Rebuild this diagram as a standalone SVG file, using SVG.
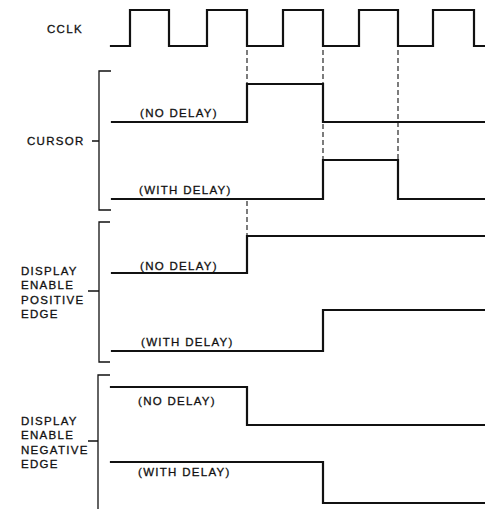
<svg xmlns="http://www.w3.org/2000/svg" width="485" height="509" viewBox="0 0 485 509">
<style>
.sig{fill:none;stroke:#111;stroke-width:2.2;stroke-linejoin:miter;stroke-linecap:square}
.br{fill:none;stroke:#111;stroke-width:1.3}
.dash{fill:none;stroke:#111;stroke-width:1.1;stroke-dasharray:5 3}
text{font-family:"Liberation Sans",Arial,sans-serif;font-size:11.5px;letter-spacing:1.3px;fill:#111;stroke:#111;stroke-width:0.3}
</style>
<rect width="485" height="509" fill="#fff"/>
<g id="connectors">
<path class="dash" d="M247,50 V84 M323,50 V84 M398,50 V160 M323,124 V160 M247,201 V236"/>
</g>
<g id="cclk">
<text x="47" y="33">CCLK</text>
<path class="sig" d="M111,46 H130 V10 H169 V46 H207 V10 H247 V46 H283 V10 H323 V46 H359 V10 H398 V46 H433 V10 H474 V46 H485"/>
</g>
<g id="cursor">
<text x="27" y="145">CURSOR</text>
<path class="br" d="M111,71 H99 V210 H111 M92,141 H99"/>
<text x="140" y="117">(NO DELAY)</text>
<path class="sig" d="M112,122 H247 V84 H323 V122 H485"/>
<text x="139" y="194">(WITH DELAY)</text>
<path class="sig" d="M112,199 H323 V160 H398 V199 H485"/>
</g>
<g id="display-enable-positive">
<text x="21" y="275">DISPLAY</text>
<text x="21" y="289">ENABLE</text>
<text x="21" y="304">POSITIVE</text>
<text x="21" y="318">EDGE</text>
<path class="br" d="M110,222 H99 V362 H110 M88,291 H99"/>
<text x="140" y="270">(NO DELAY)</text>
<path class="sig" d="M112,273 H247 V236 H485"/>
<text x="141" y="346">(WITH DELAY)</text>
<path class="sig" d="M112,351 H323 V310 H485"/>
</g>
<g id="display-enable-negative">
<text x="21" y="425">DISPLAY</text>
<text x="21" y="439">ENABLE</text>
<text x="21" y="454">NEGATIVE</text>
<text x="21" y="468">EDGE</text>
<path class="br" d="M110,375 H98 V509 M88,441 H98"/>
<text x="138" y="405">(NO DELAY)</text>
<path class="sig" d="M111,387 H247 V425 H485"/>
<text x="138" y="476">(WITH DELAY)</text>
<path class="sig" d="M111,462 H323 V503 H485"/>
</g>
</svg>
